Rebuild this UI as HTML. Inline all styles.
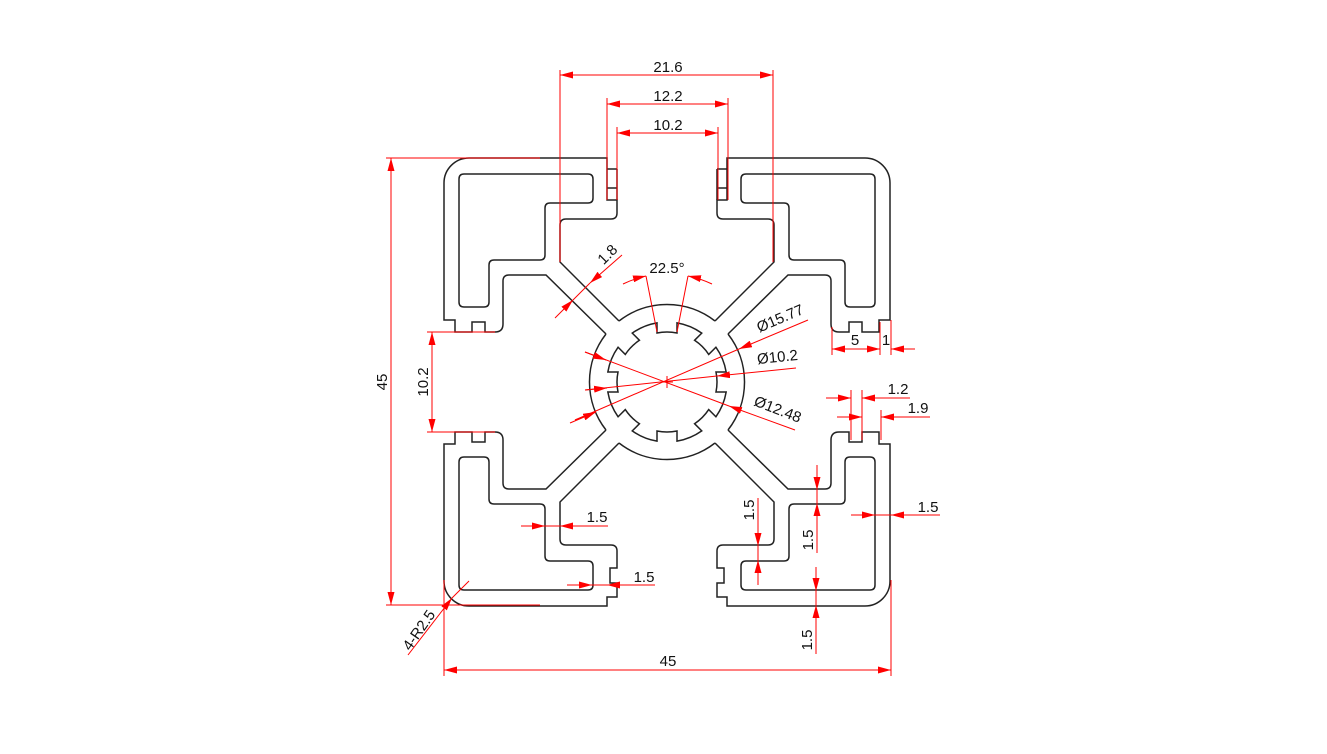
<!DOCTYPE html>
<html><head><meta charset="utf-8"><style>
html,body{margin:0;padding:0;background:#fff;}
svg{display:block;}
text{font-family:"Liberation Sans",sans-serif;font-size:15px;fill:#111;}
</style></head><body>
<svg width="1327" height="754" viewBox="0 0 1327 754" xmlns="http://www.w3.org/2000/svg">
<defs>
<marker id="a" markerWidth="13" markerHeight="7" refX="13" refY="3.5" orient="auto" markerUnits="userSpaceOnUse"><path d="M0,0 L13,3.5 L0,7z" fill="#f00"/></marker>
<g id="tl">
<path d="M606 334 L546 275 H509 Q503 275 503 281 V324 Q503 332 495 332 H485 V322 H472 V332 H455 V320 H444 V183 A25 25 0 0 1 469 158 H607 V200 H617 V213 Q617 219 611 219 H566 Q560 219 560 225 V262 L619 321"/>
<path d="M607 169 H617 M607 188 H617 M617 169 V200"/>
<path d="M464 174 H588 Q593 174 593 179 V198 Q593 203 588 203 H550 Q545 203 545 208 V255 Q545 260 540 260 H494 Q489 260 489 265 V302 Q489 307 484 307 H464 Q459 307 459 302 V179 Q459 174 464 174 Z"/>
</g>
<g id="bl">
<path d="M606 430 L546 489 H509 Q503 489 503 483 V440 Q503 432 495 432 H485 V442 H472 V432 H455 V444 H444 V581 A25 25 0 0 0 469 606 H607 V597 H617 V583 H610 V568 H617 V551 Q617 545 611 545 H566 Q560 545 560 539 V502 L619 443"/>
<path d="M464 174 H588 Q593 174 593 179 V198 Q593 203 588 203 H550 Q545 203 545 208 V255 Q545 260 540 260 H494 Q489 260 489 265 V302 Q489 307 484 307 H464 Q459 307 459 302 V179 Q459 174 464 174 Z" transform="translate(0,764) scale(1,-1)"/>
</g>
</defs>
<g fill="none" stroke="#222" stroke-width="1.5">
<use href="#tl"/>
<use href="#tl" transform="translate(1334,0) scale(-1,1)"/>
<use href="#bl"/>
<use href="#bl" transform="translate(1334,0) scale(-1,1)"/>
<path d="M619 321 A78 78 0 0 1 715 321 M728 334 A78 78 0 0 1 728 430 M715 443 A78 78 0 0 1 619 443 M606 430 A78 78 0 0 1 606 334"/>
<path id="bore" d=""/>
</g>
<g fill="none" stroke="#f00" stroke-width="1">
<!-- 21.6 -->
<path d="M560 70 V262 M773 70 V262"/>
<line x1="667" y1="75" x2="560" y2="75" marker-end="url(#a)"/><line x1="667" y1="75" x2="773" y2="75" marker-end="url(#a)"/>
<!-- 12.2 -->
<path d="M607 98 V200 M728 98 V200"/>
<line x1="667" y1="104" x2="607" y2="104" marker-end="url(#a)"/><line x1="667" y1="104" x2="728" y2="104" marker-end="url(#a)"/>
<!-- 10.2 -->
<path d="M617 127 V200 M718 127 V200"/>
<line x1="667" y1="133" x2="617" y2="133" marker-end="url(#a)"/><line x1="667" y1="133" x2="718" y2="133" marker-end="url(#a)"/>
<!-- 45 vertical -->
<path d="M386 158 H540 M386 605 H540"/>
<line x1="391" y1="382" x2="391" y2="158" marker-end="url(#a)"/><line x1="391" y1="382" x2="391" y2="605" marker-end="url(#a)"/>
<!-- 10.2 left -->
<path d="M427 332 H495 M427 432 H495"/>
<line x1="432" y1="382" x2="432" y2="332" marker-end="url(#a)"/><line x1="432" y1="382" x2="432" y2="432" marker-end="url(#a)"/>
<!-- 45 bottom -->
<path d="M444 580 V676 M891 580 V676"/>
<line x1="667" y1="670" x2="444" y2="670" marker-end="url(#a)"/><line x1="667" y1="670" x2="891" y2="670" marker-end="url(#a)"/>
<!-- R2.5 -->
<line x1="408" y1="655" x2="452" y2="598" marker-end="url(#a)"/><line x1="452" y1="598" x2="469" y2="581"/>
<!-- 1.8 -->
<line x1="555" y1="318" x2="573" y2="300" marker-end="url(#a)"/><line x1="622" y1="255" x2="590" y2="283" marker-end="url(#a)"/>
<line x1="573" y1="300" x2="590" y2="283"/>
<!-- 22.5 -->
<path d="M657 332 L646 276 M677 332 L688 276"/>
<path d="M623 284 A108 108 0 0 1 646 276" marker-end="url(#a)"/>
<path d="M712 284 A108 108 0 0 0 688 276" marker-end="url(#a)"/>
<!-- diameters -->
<line x1="575" y1="420" x2="740" y2="348" stroke-width="0"/>
<line x1="808" y1="320" x2="739" y2="349" marker-end="url(#a)"/><line x1="739" y1="349" x2="575" y2="420"/>
<line x1="575" y1="420" x2="595" y2="412" /><line x1="570" y1="423" x2="596" y2="412" marker-end="url(#a)"/>
<line x1="796" y1="368" x2="717" y2="376" marker-end="url(#a)"/><line x1="717" y1="376" x2="585" y2="390"/>
<line x1="585" y1="390" x2="607" y2="388" marker-end="url(#a)"/>
<line x1="795" y1="430" x2="729" y2="406" marker-end="url(#a)"/><line x1="729" y1="406" x2="585" y2="352"/>
<line x1="585" y1="352" x2="606" y2="360" marker-end="url(#a)"/>
<path d="M661 382 H673 M667 376 V388"/>
<!-- 5 and 1 -->
<path d="M832 327 V355 M880 322 V355 M891 320 V355"/>
<line x1="856" y1="349" x2="832" y2="349" marker-end="url(#a)"/><line x1="856" y1="349" x2="880" y2="349" marker-end="url(#a)"/>
<line x1="915" y1="349" x2="891" y2="349" marker-end="url(#a)"/>
<!-- 1.2 / 1.9 -->
<path d="M851 390 V440 M862 390 V440 M881 410 V440"/>
<line x1="826" y1="398" x2="851" y2="398" marker-end="url(#a)"/><line x1="910" y1="398" x2="862" y2="398" marker-end="url(#a)"/>
<line x1="837" y1="417" x2="862" y2="417" marker-end="url(#a)"/><line x1="930" y1="417" x2="881" y2="417" marker-end="url(#a)"/>
<!-- bottom right 1.5s -->
<line x1="817" y1="465" x2="817" y2="490" marker-end="url(#a)"/><line x1="817" y1="553" x2="817" y2="503" marker-end="url(#a)"/><line x1="817" y1="490" x2="817" y2="503"/>
<line x1="851" y1="515" x2="875" y2="515" marker-end="url(#a)"/><line x1="940" y1="515" x2="891" y2="515" marker-end="url(#a)"/><line x1="875" y1="515" x2="891" y2="515"/>
<line x1="758" y1="498" x2="758" y2="546" marker-end="url(#a)"/><line x1="758" y1="585" x2="758" y2="560" marker-end="url(#a)"/><line x1="758" y1="546" x2="758" y2="560"/>
<line x1="816" y1="567" x2="816" y2="591" marker-end="url(#a)"/><line x1="816" y1="654" x2="816" y2="605" marker-end="url(#a)"/><line x1="816" y1="591" x2="816" y2="605"/>
<!-- bottom left 1.5s -->
<line x1="521" y1="526" x2="545" y2="526" marker-end="url(#a)"/><line x1="608" y1="526" x2="560" y2="526" marker-end="url(#a)"/><line x1="545" y1="526" x2="560" y2="526"/>
<line x1="567" y1="585" x2="592" y2="585" marker-end="url(#a)"/><line x1="655" y1="585" x2="607" y2="585" marker-end="url(#a)"/><line x1="592" y1="585" x2="607" y2="585"/>
</g>
<g>
<text x="668" y="72" text-anchor="middle">21.6</text>
<text x="668" y="101" text-anchor="middle">12.2</text>
<text x="668" y="130" text-anchor="middle">10.2</text>
<text x="668" y="666" text-anchor="middle">45</text>
<text transform="translate(387,382) rotate(-90)" text-anchor="middle">45</text>
<text transform="translate(428,382) rotate(-90)" text-anchor="middle">10.2</text>
<text transform="translate(423,633) rotate(-55)" text-anchor="middle">4-R2.5</text>
<text transform="translate(611,258) rotate(-45)" text-anchor="middle">1.8</text>
<text x="667" y="273" text-anchor="middle">22.5°</text>
<text transform="translate(782,323) rotate(-23)" text-anchor="middle">Ø15.77</text>
<text transform="translate(778,362) rotate(-6)" text-anchor="middle">Ø10.2</text>
<text transform="translate(776,414) rotate(21)" text-anchor="middle">Ø12.48</text>
<text x="855" y="345" text-anchor="middle">5</text>
<text x="886" y="345" text-anchor="middle">1</text>
<text x="898" y="394" text-anchor="middle">1.2</text>
<text x="918" y="413" text-anchor="middle">1.9</text>
<text x="928" y="512" text-anchor="middle">1.5</text>
<text transform="translate(813,540) rotate(-90)" text-anchor="middle">1.5</text>
<text transform="translate(754,510) rotate(-90)" text-anchor="middle">1.5</text>
<text transform="translate(812,640) rotate(-90)" text-anchor="middle">1.5</text>
<text x="597" y="522" text-anchor="middle">1.5</text>
<text x="644" y="582" text-anchor="middle">1.5</text>
</g>
</svg>
<script>
(function(){
var cx=667,cy=382,ro=60,ri=50,h=10;
var so=Math.sqrt(ro*ro-h*h),si=Math.sqrt(ri*ri-h*h);
function P(s,t,th){var ux=Math.cos(th),uy=Math.sin(th),vx=-uy,vy=ux;return (cx+s*ux+t*vx).toFixed(2)+' '+(cy+s*uy+t*vy).toFixed(2);}
var d='';
for(var k=0;k<8;k++){
var th=k*Math.PI/4;
d+=(k==0?'M':'A'+ro+' '+ro+' 0 0 1 ')+P(so,-h,th)+' L'+P(si,-h,th)+' A'+ri+' '+ri+' 0 0 1 '+P(si,h,th)+' L'+P(so,h,th)+' ';
}
d+='A'+ro+' '+ro+' 0 0 1 '+P(so,-h,0)+'Z';
document.getElementById('bore').setAttribute('d',d);
})();
</script>
</body></html>
